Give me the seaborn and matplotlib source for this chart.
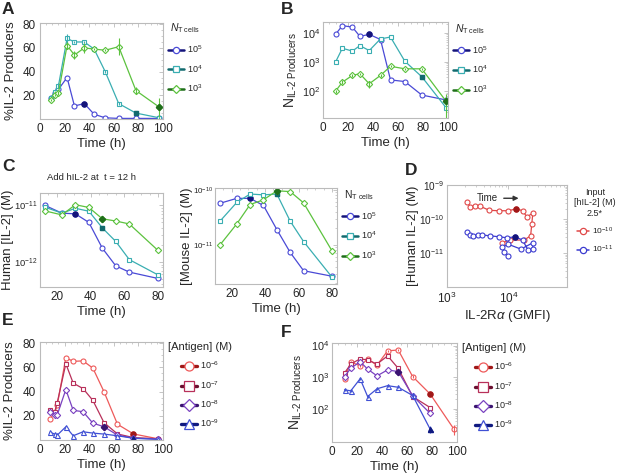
import matplotlib
matplotlib.use("Agg")
import matplotlib.pyplot as plt
from matplotlib.lines import Line2D
from matplotlib.ticker import MultipleLocator, NullFormatter
import seaborn as sns

# ---- panel A : %IL-2 producers, three T cell numbers
a_time = [9, 12, 15, 22, 28, 36, 44, 53, 64, 78, 97]
a_1e5 = [18, 22, 25, 35, 11, 13, 4, 1, 0.5, 0.5, 0.5]
a_1e4 = [18, 23, 28, 68, 65, 65, 59, 40, 13, 5, 1]
a_1e3 = [16, 20, 22, 62, 54, 60, 59, 58, 61, 24, 10]
a_err_1e4 = [1, 1, 2, 4, 1, 1, 1, 1, 1, 1, 1]
a_err_1e3 = [1, 1, 2, 3, 3, 4, 1, 1, 7, 3, 8]

# ---- panel B : number of IL-2 producers
b_time = [10, 15.5, 23.5, 29.5, 37, 46, 54, 65.5, 79, 98.5]
b_1e5 = [9.0e3, 1.8e4, 1.6e4, 7.7e3, 9.0e3, 6.0e3, 245, 215, 74, 50]
b_1e4 = [1.0e3, 3.0e3, 2.4e3, 3.7e3, 2.5e3, 6.3e3, 7.3e3, 1.07e3, 316, 27]
b_1e3 = [100, 205, 350, 400, 180, 350, 720, 590, 590, 45]
b_err_1e3 = [10, 30, 30, 40, 50, 30, 60, 50, 50, 35]

# ---- panel C : human and mouse IL-2 after adding hIL-2 at t = 12 h
c_time = [13, 23, 31, 39, 47, 55, 63, 80]
c_hum_1e5 = [1.0e-11, 7.3e-12, 7.1e-12, 5.0e-12, 1.75e-12, 8.5e-13, 6.6e-13, 5.1e-13]
c_hum_1e4 = [9.3e-12, 7.3e-12, 8.9e-12, 7.9e-12, 4.0e-12, 2.3e-12, 1.1e-12, 5.9e-13]
c_hum_1e3 = [8.0e-12, 6.8e-12, 1.03e-11, 9.2e-12, 5.8e-12, 5.3e-12, 4.7e-12, 1.6e-12]
c_mou_1e5 = [5.7e-11, 7.0e-11, 7.0e-11, 5.2e-11, 1.9e-11, 7.3e-12, 3.4e-12, 2.7e-12]
c_mou_1e4 = [2.7e-11, 5.9e-11, 8.4e-11, 8.1e-11, 8.4e-11, 2.7e-11, 1.15e-11, 2.6e-12]
c_mou_1e3 = [1.0e-11, 2.4e-11, 5.4e-11, 6.6e-11, 9.6e-11, 9.3e-11, 5.8e-11, 7.8e-12]

# ---- panel D : human IL-2 vs IL-2Ra trajectories
d_red_x = [2.1e3, 2.4e3, 2.9e3, 3.4e3, 4.9e3, 7.0e3, 1.0e4, 1.35e4, 1.7e4,
           2.0e4, 2.5e4, 2.4e4, 2.3e4, 1.8e4, 1.05e4, 8.0e3]
d_red_y = [3.2e-10, 2.3e-10, 2.4e-10, 2.4e-10, 1.8e-10, 1.75e-10, 1.75e-10, 2.0e-10,
           1.75e-10, 1.15e-10, 1.5e-10, 7e-11, 3.2e-11, 2.4e-11, 2.4e-11, 2.0e-11]
d_blue_x = [2.1e3, 2.4e3, 2.7e3, 3.2e3, 3.7e3, 5.0e3, 7.1e3, 9.5e3, 1.3e4, 1.7e4,
            2.1e4, 2.5e4, 2.5e4, 1.6e4, 1.0e4, 8.0e3, 8.5e3, 1.0e4]
d_blue_y = [4.2e-11, 3.4e-11, 3.2e-11, 3.4e-11, 3.4e-11, 3.2e-11, 3.0e-11, 2.8e-11,
            3.0e-11, 2.4e-11, 1.2e-11, 1.3e-11, 2.0e-11, 1.3e-11, 1.8e-11, 1.5e-11,
            1.1e-11, 8e-12]

# ---- panel E : %IL-2 producers, four antigen doses
e_time = [8, 12, 14, 21, 27, 35, 43, 52, 63, 76, 96]
e_1e6 = [17.7, 22.6, 28.6, 68, 65, 65.4, 59.4, 40, 13, 5, 1]
e_1e7 = [24.5, 23.5, 30.8, 63, 47, 42.5, 32.7, 14.4, 5, 2, 1]
e_1e8 = [23.4, 21, 20.7, 41.7, 24.5, 23.4, 13.9, 11, 4, 1.6, 0.8]
e_1e9 = [6.3, 5, 4, 10.9, 3.5, 6.8, 5.7, 4.9, 3.5, 1.4, 0.5]

# ---- panel F : number of IL-2 producers, four antigen doses
f_time = [10, 15, 22.5, 28.5, 36, 44.5, 53, 64.5, 78.5, 97.5]
f_1e6 = [870, 3.0e3, 2.3e3, 3.7e3, 2.4e3, 6.8e3, 7.2e3, 1.05e3, 295, 23]
f_1e7 = [1.35e3, 2.6e3, 3.8e3, 3.5e3, 2.6e3, 4.7e3, 1.9e3, 245, 110]
f_1e8 = [1.05e3, 1.9e3, 3.1e3, 1.8e3, 1.1e3, 1.7e3, 1.5e3, 260, 72]
f_1e9 = [400, 370, 890, 245, 430, 540, 480, 265, 23]
f_err_1e6 = [60, 200, 200, 300, 200, 500, 500, 100, 30, 8]
f_err_1e9 = [30, 30, 60, 30, 30, 40, 40, 60, 6]

n_labels = ['$10^5$', '$10^4$', '$10^3$']
ag_labels = ['$10^{-6}$', '$10^{-7}$', '$10^{-8}$', '$10^{-9}$']
d_labels = ['$10^{-10}$', '$10^{-11}$']

BLUE, BLUE_D = '#4a4ad6', '#14147a'
TEAL, TEAL_D = '#3aaeb2', '#136a6e'
GREEN, GREEN_D = '#5cc23e', '#1f6e1a'
RED, RED_D = '#ee5a5a', '#a01818'
CRIM, CRIM_D = '#b8305a', '#6a1030'
PURP, PURP_D = '#7a42c0', '#3a1470'
BLU2, BLU2_D = '#4050d4', '#101a80'
DRED, DBLUE = '#e04848', '#3c3cd0'
GRID = '#bbbbbb'

sns.set_style('white')
plt.rcParams['font.family'] = ['Liberation Sans', 'DejaVu Sans']
plt.rcParams['mathtext.fontset'] = 'custom'
plt.rcParams['mathtext.rm'] = 'Liberation Sans'
plt.rcParams['mathtext.it'] = 'Liberation Sans:italic'

MS = 3.6
LAB = 9.5
TICK = 8.5


def series(ax, x, y, color, dark, marker, filled=None, err=None, ms=MS):
    n = len(y)
    x = list(x[:n])
    sns.lineplot(x=x, y=y, ax=ax, color=color, lw=0.9, marker=marker, markersize=ms,
                 markerfacecolor='white', markeredgecolor=color, markeredgewidth=0.8,
                 sort=False, estimator=None, legend=False)
    if err is not None:
        ax.errorbar(x, y, yerr=err, fmt='none', ecolor=color, elinewidth=0.8, capsize=0)
    if filled is not None:
        ax.plot(x[filled], y[filled], marker=marker, ms=ms, color=dark, mec=dark)


def style(ax, logy=False, logx=False, ysize=TICK):
    for s in ax.spines.values():
        s.set_color(GRID)
        s.set_linewidth(0.8)
    ax.tick_params(which='both', direction='in', color=GRID, top=True, right=True,
                   labelsize=TICK, pad=3)
    ax.tick_params(axis='y', labelsize=ysize)
    ax.tick_params(which='major', length=3, width=0.6)
    ax.tick_params(which='minor', length=1.5, width=0.5)
    if not logx:
        ax.xaxis.set_minor_locator(MultipleLocator(5))
    else:
        ax.xaxis.set_minor_formatter(NullFormatter())
    if not logy:
        ax.yaxis.set_minor_locator(MultipleLocator(5))
    else:
        ax.yaxis.set_minor_formatter(NullFormatter())


def legend(ax, colors, darks, markers, labels, title, anchor, spacing=0.9,
           lw=1.8, ms=4.5, fs=6.5, tfs=7.5, hl=1.8):
    hs = [Line2D([], [], color=d, lw=lw, marker=m, ms=ms, mfc='white', mec=c, mew=0.9)
          for c, d, m in zip(colors, darks, markers)]
    lg = ax.legend(hs, labels, title=title, loc='upper left', bbox_to_anchor=anchor,
                   frameon=False, fontsize=fs, title_fontsize=tfs, handlelength=hl,
                   handletextpad=0.3, labelspacing=spacing, borderaxespad=0,
                   borderpad=0)
    return lg


def ylabel(ax, text, right_px, size=LAB):
    # place the label so that its right edge sits at right_px (figure pixels)
    ax.set_ylabel(text, fontsize=size)
    l = ax.get_position().x0 * W
    w = ax.get_position().width * W
    ax.yaxis.set_label_coords((right_px - l) / w, 0.5)


W, H = 617, 475


def box(l, t, r, b):
    return [l / W, 1 - b / H, (r - l) / W, (b - t) / H]


fig = plt.figure(figsize=(6.17, 4.75), dpi=100)
n_title = r'$N_{\mathrm{T\ cells}}$'
ag_title = '[Antigen] (M)'
prod_label = r'N$_{\mathrm{IL\text{-}2\ Producers}}$'

# A
ax = fig.add_axes(box(40, 23, 163, 119))
series(ax, a_time, a_1e5, BLUE, BLUE_D, 'o', filled=5)
series(ax, a_time, a_1e4, TEAL, TEAL_D, 's', filled=9, err=a_err_1e4, ms=3.3)
series(ax, a_time, a_1e3, GREEN, GREEN_D, 'D', filled=10, err=a_err_1e3, ms=3.2)
ax.set_xlim(1, 100)
ax.set_ylim(0, 81)
ax.set_xticks([0, 20, 40, 60, 80, 100])
ax.set_yticks([20, 40, 60, 80])
ax.set_xlabel('Time (h)', fontsize=LAB, labelpad=2)
ylabel(ax, '%IL-2 Producers', 17)
style(ax)
legend(ax, [BLUE, TEAL, GREEN], [BLUE_D, TEAL_D, GREEN_D], ['o', 's', 'D'],
       n_labels, n_title, (1.04, 1.02))

# B
ax = fig.add_axes(box(323, 22, 448, 118))
series(ax, b_time, b_1e5, BLUE, BLUE_D, 'o', filled=4)
series(ax, b_time, b_1e4, TEAL, TEAL_D, 's', filled=8, ms=3.3)
series(ax, b_time, b_1e3, GREEN, GREEN_D, 'D', filled=9, err=b_err_1e3, ms=3.2)
ax.set_yscale('log')
ax.set_xlim(1, 100)
ax.set_ylim(12, 2.4e4)
ax.set_xticks([0, 20, 40, 60, 80, 100])
ax.set_yticks([1e2, 1e3, 1e4])
ax.set_xlabel('Time (h)', fontsize=LAB, labelpad=2)
ylabel(ax, prod_label, 299, size=10)
style(ax, logy=True, ysize=7.8)
ax.tick_params(axis='y', pad=2)
legend(ax, [BLUE, TEAL, GREEN], [BLUE_D, TEAL_D, GREEN_D], ['o', 's', 'D'],
       n_labels, n_title, (1.04, 1.0))

# C left
ax = fig.add_axes(box(40, 193, 163, 287))
series(ax, c_time, c_hum_1e5, BLUE, BLUE_D, 'o', filled=2)
series(ax, c_time, c_hum_1e4, TEAL, TEAL_D, 's', filled=4, ms=3.3)
series(ax, c_time, c_hum_1e3, GREEN, GREEN_D, 'D', filled=4, ms=3.2)
ax.set_yscale('log')
ax.set_xlim(10, 83)
ax.set_ylim(3.6e-13, 1.66e-11)
ax.set_xticks([20, 40, 60, 80])
ax.set_yticks([1e-12, 1e-11])
ax.set_xlabel('Time (h)', fontsize=LAB, labelpad=2)
ylabel(ax, 'Human [IL-2] (M)', 14)
ax.set_title('Add hIL-2 at  t = 12 h', fontsize=6.8, pad=9, x=0.42)
style(ax, logy=True, ysize=6.8)
ax.tick_params(axis='y', pad=2)

# C right
ax = fig.add_axes(box(215, 188, 337, 284))
series(ax, c_time, c_mou_1e5, BLUE, BLUE_D, 'o', filled=2)
series(ax, c_time, c_mou_1e4, TEAL, TEAL_D, 's', filled=4, ms=3.3)
series(ax, c_time, c_mou_1e3, GREEN, GREEN_D, 'D', filled=4, ms=3.2)
ax.set_yscale('log')
ax.set_xlim(10, 83)
ax.set_ylim(1.95e-12, 1.08e-10)
ax.set_xticks([20, 40, 60, 80])
ax.set_yticks([1e-11, 1e-10])
ax.set_xlabel('Time (h)', fontsize=LAB, labelpad=2)
ylabel(ax, '[Mouse IL-2] (M)', 193)
style(ax, logy=True, ysize=5.8)
ax.tick_params(axis='y', pad=1.5)
legend(ax, [BLUE, TEAL, GREEN], [BLUE_D, TEAL_D, GREEN_D], ['o', 's', 'D'],
       n_labels, r'N$_{\mathrm{T\ cells}}$', (1.04, 1.0))

# D
ax = fig.add_axes(box(447, 185, 567, 287))
series(ax, d_red_x, d_red_y, DRED, RED_D, 'o', filled=7)
series(ax, d_blue_x, d_blue_y, DBLUE, BLUE_D, 'o', filled=8)
ax.set_xscale('log')
ax.set_yscale('log')
ax.set_xlim(1e3, 9e4)
ax.set_ylim(1e-12, 1e-9)
ax.set_xticks([1e3, 1e4])
ax.set_yticks([1e-11, 1e-10, 1e-9])
ax.set_xlabel(r'IL-2R$\alpha$ (GMFI)', fontsize=LAB, labelpad=1)
ylabel(ax, '[Human IL-2] (M)', 419)
style(ax, logy=True, logx=True, ysize=7.2)
ax.tick_params(axis='y', pad=2)
ax.text(0.34, 0.87, 'Time', transform=ax.transAxes, fontsize=7, ha='center', va='center')
ax.annotate('', xy=(0.62, 0.87), xytext=(0.45, 0.87), xycoords='axes fraction',
            arrowprops=dict(arrowstyle='-|>', color='#333333', lw=1, mutation_scale=7))
lg = legend(ax, [DRED, DBLUE], [DRED, DBLUE], ['o', 'o'], d_labels,
            'Input\n[hIL-2] (M)\n2.5*', (1.06, 0.97), lw=1.1, ms=4.5, fs=6, tfs=6.5,
            hl=1.4, spacing=0.9)
lg.get_title().set_multialignment('center')

# E
ax = fig.add_axes(box(40, 342, 163, 440))
series(ax, e_time, e_1e6, RED, RED_D, 'o', filled=9)
series(ax, e_time, e_1e7, CRIM, CRIM_D, 's', ms=3.3)
series(ax, e_time, e_1e8, PURP, PURP_D, 'D', filled=7, ms=3.2)
series(ax, e_time, e_1e9, BLU2, BLU2_D, '^', filled=9)
ax.set_xlim(0, 100)
ax.set_ylim(0, 81)
ax.set_xticks([0, 20, 40, 60, 80, 100])
ax.set_yticks([20, 40, 60, 80])
ax.set_xlabel('Time (h)', fontsize=LAB, labelpad=2)
ylabel(ax, '%IL-2 Producers', 16)
style(ax)
legend(ax, [RED, CRIM, PURP, BLU2], [RED_D, CRIM_D, PURP_D, BLU2_D], ['o', 's', 'D', '^'],
       ag_labels, ag_title, (1.04, 1.0), spacing=0.85, lw=2.4, ms=6.5, tfs=8)

# F
ax = fig.add_axes(box(332, 343, 457, 442))
series(ax, f_time, f_1e6, RED, RED_D, 'o', filled=8, err=f_err_1e6)
series(ax, f_time, f_1e7, CRIM, CRIM_D, 's', ms=3.3)
series(ax, f_time, f_1e8, PURP, PURP_D, 'D', filled=6, ms=3.2)
series(ax, f_time, f_1e9, BLU2, BLU2_D, '^', filled=8, err=f_err_1e9)
ax.set_yscale('log')
ax.set_xlim(1, 100)
ax.set_ylim(9, 1.2e4)
ax.set_xticks([0, 20, 40, 60, 80, 100])
ax.set_yticks([1e2, 1e3, 1e4])
ax.set_xlabel('Time (h)', fontsize=LAB, labelpad=2)
ylabel(ax, prod_label, 304, size=10)
style(ax, logy=True, ysize=7.8)
ax.tick_params(axis='y', pad=2)
legend(ax, [RED, CRIM, PURP, BLU2], [RED_D, CRIM_D, PURP_D, BLU2_D], ['o', 's', 'D', '^'],
       ag_labels, ag_title, (1.04, 1.0), spacing=0.85, lw=2.4, ms=6.5, tfs=8)

# panel letters
for letter, px, py in [('A', 2, 2), ('B', 281, 2), ('C', 2, 159), ('D', 405, 163),
                       ('E', 2, 313), ('F', 281, 325)]:
    fig.text(px / W, 1 - py / H, letter, fontsize=12.5, fontweight='bold',
             va='top', ha='left')

fig.savefig('out.png', dpi=100)
